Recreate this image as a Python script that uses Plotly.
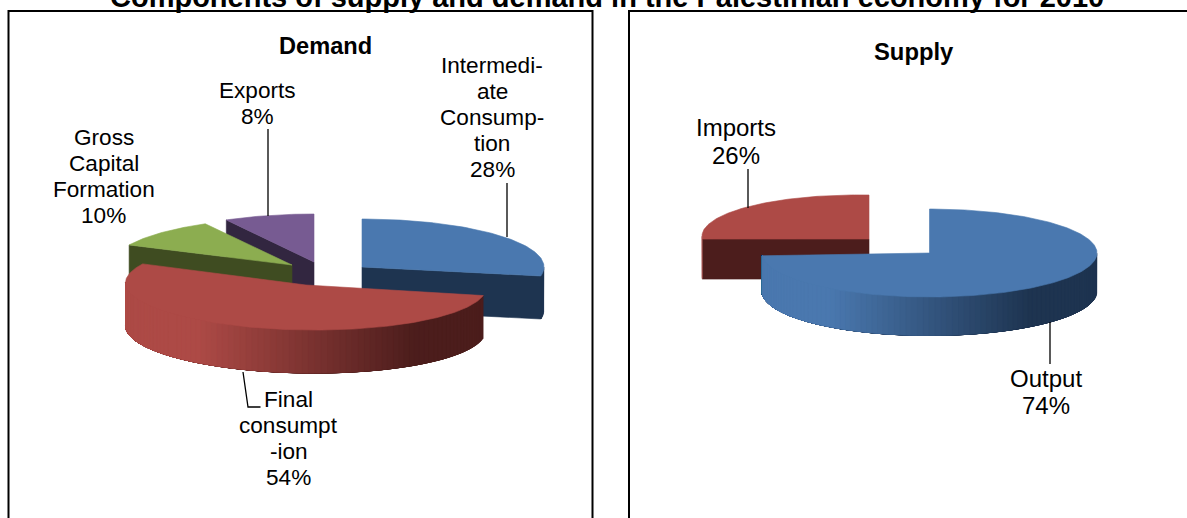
import math
import plotly.graph_objects as go

# ---- data -------------------------------------------------------------
chart_title = "Components of supply and demand in the Palestinian economy for 2010"
demand_title = "Demand"
supply_title = "Supply"

demand_names = ["Intermediate Consumption", "Final consumption", "Gross Capital Formation", "Exports"]
demand_values = [28, 54, 10, 8]
demand_label_lines = [["Intermedi-", "ate", "Consump-", "tion"], ["Final", "consumpt", "-ion"],
                      ["Gross", "Capital", "Formation"], ["Exports"]]

supply_names = ["Output", "Imports"]
supply_values = [74, 26]
supply_label_lines = [["Output"], ["Imports"]]

# ---- styling / layout (pixel scale axes) --------------------------------
W, H = 1187, 518
TOP = {"blue": "#4A78AF", "red": "#AD4A46", "green": "#8CAD50", "purple": "#775B92"}
DARK = {"blue": "#1E3450", "red": "#4C1D1C", "green": "#3F4C21", "purple": "#322640"}
FONT = "Liberation Sans, Arial, sans-serif"

demand_geom = [
    dict(color="blue", cx=362, cy=267, rx=182, ry=48, depth=43, shear=0),
    dict(color="red", cx=306, cy=285, rx=180.5, ry=45, depth=43, shear=0.012),
    dict(color="green", cx=292, cy=265, rx=180, ry=47, depth=43, shear=0),
    dict(color="purple", cx=314, cy=262, rx=182, ry=48, depth=43, shear=0),
]
supply_geom = [
    dict(color="blue", cx=929.5, cy=253, rx=167.5, ry=44, depth=38.5, shear=0),
    dict(color="red", cx=869, cy=239, rx=167, ry=44, depth=40, shear=0.016),
]
demand_draw_order = [3, 2, 0, 1]
supply_draw_order = [1, 0]

demand_label_pos = [(492, 65.3), (288.5, 399), (103.5, 137), (257, 90.3)]
supply_label_pos = [(1046, 378.3), (736, 127.5)]
leaders = [
    [(507, 183), (507, 237)],
    [(268, 129), (268, 216)],
    [(243, 372), (248, 407), (260.5, 407)],
    [(748, 169), (748, 208)],
    [(1050, 322), (1050, 364)],
]

fig = go.Figure()


def mix(c1, c2, f):
    a = [int(c1[i:i + 2], 16) for i in (1, 3, 5)]
    b = [int(c2[i:i + 2], 16) for i in (1, 3, 5)]
    return "rgb(%d,%d,%d)" % tuple(round(p + (q - p) * f) for p, q in zip(a, b))


def poly(xs, ys, color, lw=0.6):
    fig.add_trace(go.Scatter(x=xs, y=ys, mode="lines", fill="toself", fillcolor=color,
                             line=dict(color=color, width=lw), hoverinfo="skip",
                             showlegend=False))


def pt(g, t):
    r = math.radians(t)
    x = g["rx"] * math.sin(r)
    return g["cx"] + x, g["cy"] - g["ry"] * math.cos(r) + g["shear"] * x


def wedge(g, t0, t1):
    base, dark = TOP[g["color"]], DARK[g["color"]]
    d = g["depth"]
    ax, ay = g["cx"], g["cy"]
    # cut faces seen from the front
    if 180 < t0 < 360:
        x, y = pt(g, t0)
        poly([x, ax, ax, x, x], [y, ay, ay + d, y + d, y], dark)
    if 0 < t1 < 180:
        x, y = pt(g, t1)
        poly([x, ax, ax, x, x], [y, ay, ay + d, y + d, y], dark)
    # outer wall, front half only: each band runs on to the wall's far end,
    # the next band paints over it, so no seams appear
    lo, hi = max(t0, 90), min(t1, 270)
    if hi > lo:
        n = max(2, int((hi - lo) / 2))
        for i in range(n):
            a = lo + (hi - lo) * i / n
            xa, ya = pt(g, a)
            b = a + (hi - lo) / n
            xb, _ = pt(g, b)
            f = ((xa + xb) / 2 - (g["cx"] - g["rx"])) / (2 * g["rx"])
            f = min(1, max(0, (f - 0.2) / 0.6))
            # band from hi down to a on the upper rim, then back on the lower rim
            rim = [pt(g, hi - (hi - a) * k / 40) for k in range(41)]
            xs = [p[0] for p in rim] + [p[0] for p in reversed(rim)] + [rim[0][0]]
            ys = [p[1] for p in rim] + [p[1] + d for p in reversed(rim)] + [rim[0][1]]
            poly(xs, ys, mix(base, dark, f), lw=0.3)
    # top surface
    n = max(2, int(t1 - t0))
    arc = [pt(g, t0 + (t1 - t0) * i / n) for i in range(n + 1)]
    poly([ax] + [p[0] for p in arc] + [ax], [ay] + [p[1] for p in arc] + [ay], base)


def pie(values, geom, order):
    total = sum(values)
    angles = [0]
    for v in values:
        angles.append(angles[-1] + 360 * v / total)
    for i in order:
        wedge(geom[i], angles[i], angles[i + 1])


pie(demand_values, demand_geom, demand_draw_order)
pie(supply_values, supply_geom, supply_draw_order)

for seg in leaders:
    fig.add_trace(go.Scatter(x=[p[0] for p in seg], y=[p[1] for p in seg], mode="lines",
                             line=dict(color="black", width=1.3), hoverinfo="skip",
                             showlegend=False))

annotations = []


def text(x, y, s, size, bold=False):
    annotations.append(dict(x=x, y=y, xref="x", yref="y", text="<b>%s</b>" % s if bold else s,
                            showarrow=False, xanchor="center", yanchor="middle",
                            font=dict(family=FONT, size=size, color="black")))


def labels(lines, values, pos, step, size):
    for ln, v, (x, y) in zip(lines, values, pos):
        for j, s in enumerate(list(ln) + ["%d%%" % v]):
            text(x, y + j * step, s, size)


labels(demand_label_lines, demand_values, demand_label_pos, 26, 22.6)
labels(supply_label_lines, supply_values, supply_label_pos, 27.5, 24)
text(325, 46, demand_title, 23.6, True)
text(913.5, 51, supply_title, 23.8, True)
annotations.append(dict(x=606.5 / W, y=1 + 3 / H, xref="paper", yref="paper",
                        text="<b>%s</b>" % chart_title, showarrow=False,
                        xanchor="center", yanchor="middle",
                        font=dict(family=FONT, size=29, color="black")))

frame = dict(color="black", width=2)
shapes = [
    dict(type="path", path="M 8.5 530 L 8.5 11 L 592.5 11 L 592.5 530", xref="x", yref="y", line=frame),
    dict(type="path", path="M 629 530 L 629 11 L 1195 11", xref="x", yref="y", line=frame),
]

fig.update_layout(
    width=W, height=H, margin=dict(l=0, r=0, t=0, b=0),
    paper_bgcolor="white", plot_bgcolor="white",
    xaxis=dict(range=[0, W], visible=False, fixedrange=True),
    yaxis=dict(range=[H, 0], visible=False, fixedrange=True),
    annotations=annotations, shapes=shapes, showlegend=False,
)
fig.write_html("out.html", config={"displayModeBar": False},
               post_script="document.body.style.margin='0';document.body.style.overflow='hidden';")
